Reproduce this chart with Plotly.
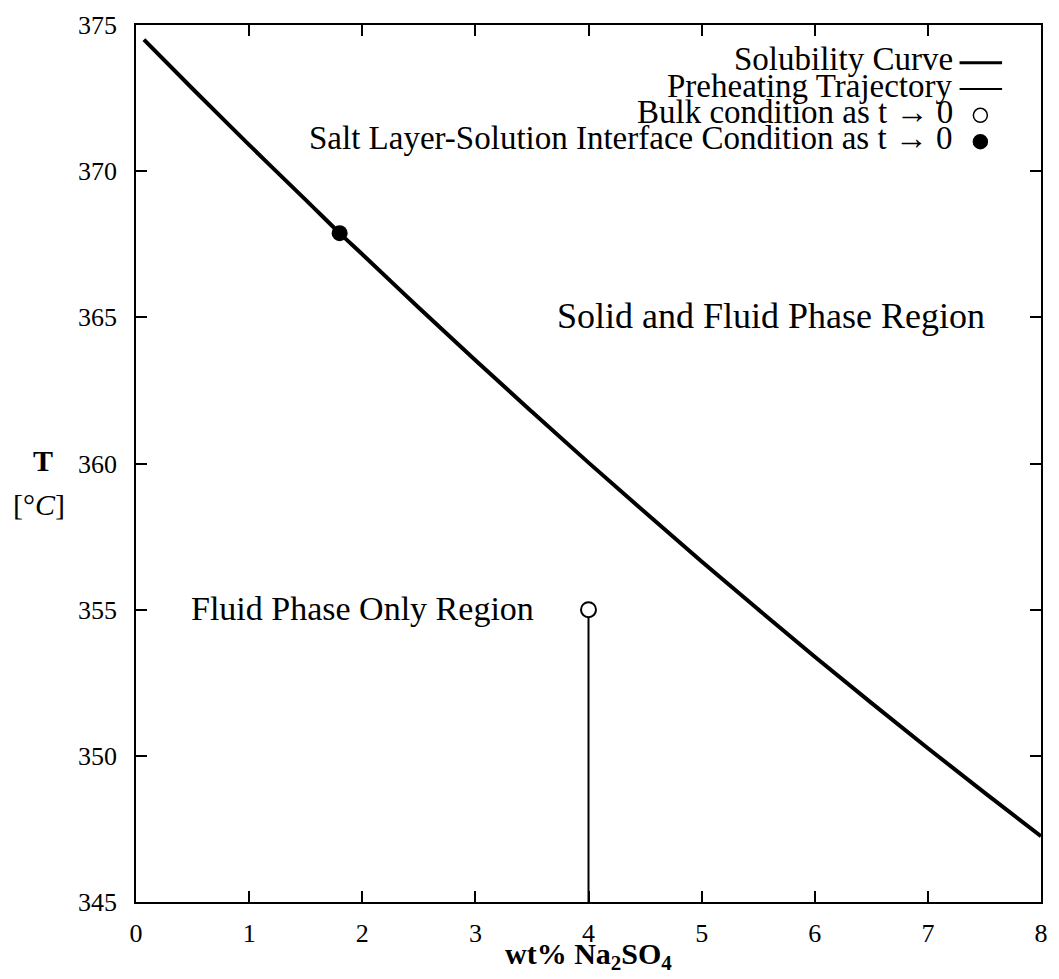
import plotly.graph_objects as go

# Solubility curve of Na2SO4 in near-critical water (wt% vs temperature)
sol_wt = [0.07, 0.5, 1.0, 1.5, 1.8, 2.0, 2.5, 3.0, 3.5, 4.0, 4.5, 5.0, 5.5,
          6.0, 6.5, 7.0, 7.5, 8.0]
sol_T = [374.50, 372.82, 370.90, 369.02, 367.88, 367.16, 365.33, 363.53,
         361.77, 360.03, 358.33, 356.65, 355.01, 353.39, 351.81, 350.26,
         348.74, 347.25]

# Preheating trajectory at constant bulk concentration
pre_wt = [4.0, 4.0]
pre_T = [345.0, 355.0]

# Bulk condition and salt layer-solution interface condition as t -> 0
bulk_wt, bulk_T = [4.0], [355.0]
iface_wt, iface_T = [1.8], [367.88]

x_ticks = [0, 1, 2, 3, 4, 5, 6, 7, 8]
y_ticks = [345, 350, 355, 360, 365, 370, 375]

legend_labels = ["Solubility Curve", "Preheating Trajectory",
                 "Bulk condition as t \u2192 0",
                 "Salt Layer-Solution Interface Condition as t \u2192 0"]

FONT = "Liberation Serif"

fig = go.Figure()
fig.add_trace(go.Scatter(x=sol_wt, y=sol_T, mode="lines",
                         line=dict(color="black", width=4),
                         line_shape="spline", showlegend=False))
fig.add_trace(go.Scatter(x=pre_wt, y=pre_T, mode="lines",
                         line=dict(color="black", width=2), showlegend=False))
fig.add_trace(go.Scatter(x=bulk_wt, y=bulk_T, mode="markers",
                         marker=dict(size=15, color="white", symbol="circle",
                                     line=dict(color="black", width=2)),
                         showlegend=False))
fig.add_trace(go.Scatter(x=iface_wt, y=iface_T, mode="markers",
                         marker=dict(size=16, color="black", symbol="circle"),
                         showlegend=False))

# Region labels
fig.add_annotation(x=5.61, y=365.06, text="Solid and Fluid Phase Region",
                   showarrow=False, font=dict(family=FONT, size=36, color="black"))
fig.add_annotation(x=2.0, y=355.03, text="Fluid Phase Only Region",
                   showarrow=False, font=dict(family=FONT, size=34, color="black"))

# Legend drawn with the text on the left and the symbol on the right
row_y = [0.961, 0.931, 0.901, 0.871]
text_right = 0.905
for i, lab in enumerate(legend_labels):
    fig.add_annotation(xref="paper", yref="paper", x=text_right, y=row_y[i],
                       xanchor="right", yanchor="middle", text=lab,
                       showarrow=False,
                       font=dict(family=FONT, size=33, color="black"))
for i, w in [(0, 3), (1, 2)]:
    fig.add_shape(type="line", xref="paper", yref="paper",
                  x0=0.910, x1=0.957, y0=row_y[i] - 0.004, y1=row_y[i] - 0.004,
                  line=dict(color="black", width=w))
for i, fill in [(2, "white"), (3, "black")]:
    fig.add_shape(type="circle", xref="paper", yref="paper",
                  xsizemode="pixel", ysizemode="pixel",
                  xanchor=0.933, yanchor=row_y[i] - 0.004,
                  x0=-7, x1=7, y0=-7, y1=7,
                  fillcolor=fill, line=dict(color="black", width=1.5))

# Axis titles
fig.add_annotation(xref="paper", yref="paper", x=0.5, y=-0.062,
                   yanchor="middle", xanchor="center",
                   text="<b>wt% Na<sub>2</sub>SO<sub>4</sub></b>",
                   showarrow=False, font=dict(family=FONT, size=30, color="black"))
fig.add_annotation(xref="paper", yref="paper", x=-0.103, y=0.503,
                   xanchor="center", yanchor="middle", text="<b>T</b>",
                   showarrow=False, font=dict(family=FONT, size=30, color="black"))
fig.add_annotation(xref="paper", yref="paper", x=-0.107, y=0.453,
                   xanchor="center", yanchor="middle", text="[°<i>C</i>]",
                   showarrow=False, font=dict(family=FONT, size=30, color="black"))

axis_common = dict(showgrid=False, zeroline=False, showline=True,
                   linecolor="black", linewidth=1.8, mirror="allticks",
                   ticks="inside", ticklen=11, tickwidth=1.5, tickcolor="black",
                   tickfont=dict(family=FONT, size=26, color="black"))

fig.update_xaxes(range=[0, 8], tickvals=x_ticks, ticklabelstandoff=7,
                 **axis_common)
fig.update_yaxes(range=[345, 375], tickvals=y_ticks, ticklabelstandoff=12,
                 **axis_common)

fig.update_layout(width=1059, height=979,
                  margin=dict(l=136, r=11, t=19, b=77),
                  paper_bgcolor="white", plot_bgcolor="white",
                  showlegend=False)

fig.write_html("out.html")
